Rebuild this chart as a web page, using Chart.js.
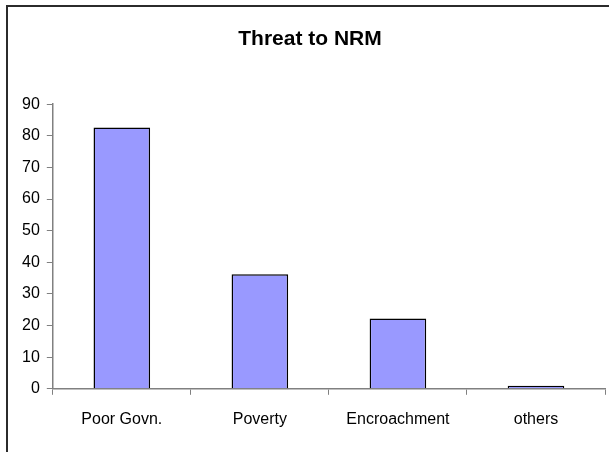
<!DOCTYPE html>
<html>
<head>
<meta charset="utf-8">
<title>Threat to NRM</title>
<script src="https://cdn.jsdelivr.net/npm/chart.js@4/dist/chart.umd.min.js"></script>
<style>
  html, body { margin: 0; padding: 0; background: #ffffff; }
  #wrap { width: 609px; height: 452px; position: relative; }
</style>
</head>
<body>
<div id="wrap"><canvas id="chart" width="609" height="452"></canvas></div>
<script>
// Survey responses: perceived threats to natural resource management
const categories = ["Poor Govn.", "Poverty", "Encroachment", "others"];
const threatValues = [82.6, 36.2, 22.2, 1.0];
const yTicks = { min: 0, max: 90, step: 10 };

const FONT = "'Liberation Sans', Arial, Helvetica, sans-serif";

// Thin frame around the whole chart, as in a spreadsheet chart object
const frame = {
  id: 'frame',
  beforeDraw(chart) {
    const ctx = chart.ctx;
    ctx.save();
    ctx.fillStyle = '#ffffff';
    ctx.fillRect(0, 0, chart.width, chart.height);
    ctx.strokeStyle = '#2b2b2b';
    ctx.lineWidth = 2;
    ctx.strokeRect(7, 6, chart.width + 10, chart.height + 10);
    ctx.restore();
  }
};

new Chart(document.getElementById('chart'), {
  type: 'bar',
  data: {
    labels: categories,
    datasets: [{
      label: 'Threat to NRM',
      data: threatValues,
      backgroundColor: '#9999ff',
      borderColor: '#000000',
      borderWidth: 1.5,
      barPercentage: 0.41,
      categoryPercentage: 1.0
    }]
  },
  options: {
    responsive: false,
    animation: false,
    layout: { padding: { left: 15, right: 4, top: 0, bottom: 8 } },
    plugins: {
      legend: { display: false },
      tooltip: { enabled: false },
      title: {
        display: true,
        text: 'Threat to NRM',
        color: '#000000',
        font: { family: FONT, size: 21, weight: 'bold' },
        padding: { top: 27, bottom: 52 }
      }
    },
    scales: {
      x: {
        grid: {
          offset: true,
          drawOnChartArea: false,
          drawTicks: true,
          tickLength: 6,
          color: '#808080'
        },
        border: { display: true, color: '#808080', width: 1.5 },
        ticks: {
          color: '#000000',
          padding: 15,
          font: { family: FONT, size: 16 }
        }
      },
      y: {
        min: yTicks.min,
        max: yTicks.max,
        grid: {
          drawOnChartArea: false,
          drawTicks: true,
          tickLength: 6,
          color: '#808080'
        },
        border: { display: true, color: '#808080', width: 1.5 },
        ticks: {
          stepSize: yTicks.step,
          color: '#000000',
          padding: 7,
          font: { family: FONT, size: 16 }
        }
      }
    }
  },
  plugins: [frame]
});
</script>
</body>
</html>
